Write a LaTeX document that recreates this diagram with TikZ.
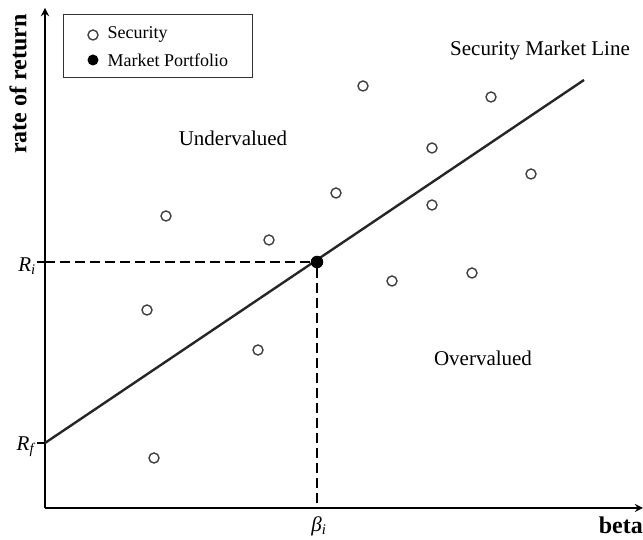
\documentclass[tikz,border=0pt]{standalone}
\usepackage{fontspec}
\setmainfont{Liberation Serif}
\usetikzlibrary{arrows, calc}

\begin{document}
\begin{tikzpicture}
                [x=1pt, y=1pt,
                ssty/.style={circle, draw=black!75, fill=white, line width=1.4pt, inner sep=0pt, minimum size=10pt},
                msty/.style={circle, fill=black, inner sep=0pt, minimum size=12.5pt},
                asty/.style={-{stealth}, line width=2.6pt},
                lsty/.style={line width=2.4pt, black!85},
                dsty/.style={dashed, line width=1.8pt, dash pattern=on 10pt off 5pt},
                tsty/.style={font=\fontsize{21}{24}\selectfont},
                bsty/.style={font=\fontsize{24}{28}\selectfont\bfseries}]
                \useasboundingbox (0,0) rectangle (643,540);
                % axes
                \coordinate (o) at (45,32);
                \coordinate (ytop) at (45,532);
                \coordinate (xend) at (643,32);
                \draw[asty] (o) -- (ytop);
                \draw[asty] (o) -- (xend);
                \node[bsty, rotate=90] (ylab) at (18,456) {rate of return};
                \node[bsty, anchor=base east, inner sep=0pt] (xlab) at (643,6) {beta};
                % security market line
                \coordinate (rf) at (45,97);
                \coordinate (sml) at (584,460);
                \draw[lsty] (rf) -- (sml);
                \node[msty] (m) at (317,278) {};
                \coordinate (ri) at (45,278);
                \coordinate (bi) at (317,32);
                \draw[dsty] (ri) -- (m);
                \draw[dsty] (m) -- (bi);
                % ticks
                \draw[line width=2pt] (37,278) -- (ri);
                \draw[line width=2pt] (37,97) -- (rf);
                \node[tsty, anchor=east, inner sep=1pt] (rilab) at (37,274) {\textit{R}\textsubscript{\textit{i}}};
                \node[tsty, anchor=east, inner sep=1pt] (rflab) at (37,93) {\textit{R}\textsubscript{\textit{f}}};
                \node[tsty] (bilab) at (319,14) {\textit{β}\textsubscript{\textit{i}}};
                % securities
                \foreach \px/\py [count=\k] in {363/454, 491/443, 432/392, 531/366, 336/347, 432/335,
                    166/324, 269/300, 392/259, 472/267, 147/230, 258/190, 154/82}
                    \node[ssty] (s\k) at (\px,\py) {};
                % labels
                \node[tsty] (uv) at (233,402) {Undervalued};
                \node[tsty] (ov) at (483,182) {Overvalued};
                \node[tsty] (smllab) at (540,490) {Security Market Line};
                % legend
                \draw[line width=1pt, black!80] (63,462) rectangle (252,525);
                \node[ssty] (l1) at (93,505) {};
                \node[msty, minimum size=11pt] (l2) at (93,480) {};
                \node[anchor=west, font=\fontsize{18}{20}\selectfont] (l1t) at (104,506) {Security};
                \node[anchor=west, font=\fontsize{18}{20}\selectfont] (l2t) at (104,480) {Market Portfolio};
            \end{tikzpicture}
\end{document}
